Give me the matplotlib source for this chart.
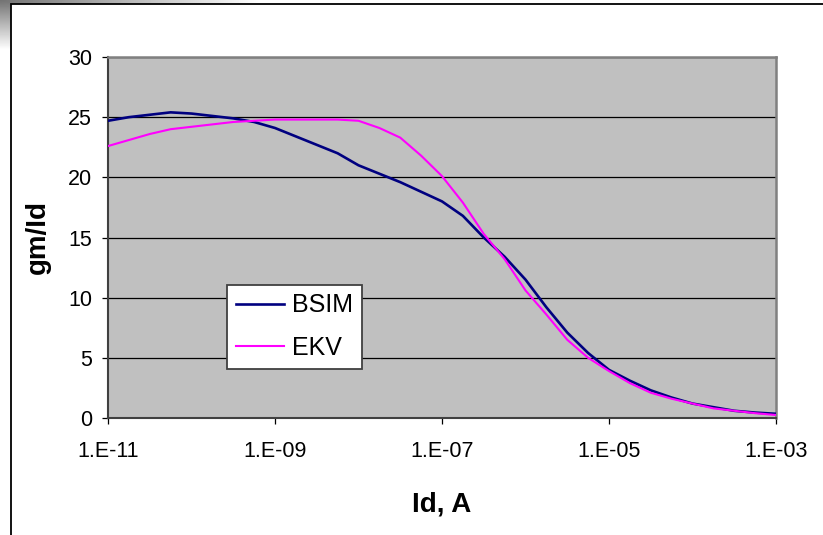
import numpy as np
import matplotlib
matplotlib.use("Agg")
import matplotlib.pyplot as plt
from matplotlib.patches import Rectangle
from matplotlib.ticker import FixedLocator, FixedFormatter, NullLocator

plt.rcParams['font.family'] = ['Liberation Sans', 'DejaVu Sans']

# Drain current exponents (log10 of Id, A)
id_exp = [-11, -10.75, -10.5, -10.25, -10, -9.75, -9.5, -9.25, -9, -8.75, -8.5,
          -8.25, -8, -7.75, -7.5, -7.25, -7, -6.75, -6.5, -6.25, -6, -5.75,
          -5.5, -5.25, -5, -4.75, -4.5, -4.25, -4, -3.75, -3.5, -3.25, -3]
bsim = [24.7, 25.0, 25.2, 25.4, 25.3, 25.1, 24.9, 24.6, 24.1, 23.4, 22.7,
        22.0, 21.0, 20.3, 19.6, 18.8, 18.0, 16.8, 15.0, 13.4, 11.5, 9.2,
        7.1, 5.4, 4.0, 3.1, 2.3, 1.7, 1.2, 0.9, 0.6, 0.45, 0.35]
ekv = [22.6, 23.1, 23.6, 24.0, 24.2, 24.4, 24.6, 24.7, 24.8, 24.8, 24.8,
       24.8, 24.7, 24.1, 23.3, 21.8, 20.1, 17.9, 15.3, 13.2, 10.6, 8.6,
       6.5, 5.0, 3.9, 2.9, 2.1, 1.6, 1.2, 0.8, 0.6, 0.4, 0.25]
xtick_vals = [1e-11, 1e-9, 1e-7, 1e-5, 1e-3]
xtick_labels = ["1.E-11", "1.E-09", "1.E-07", "1.E-05", "1.E-03"]
ytick_vals = [0, 5, 10, 15, 20, 25, 30]

Id = [10.0 ** e for e in id_exp]

W, H = 823, 535
fig = plt.figure(figsize=(W / 100, H / 100), dpi=100)
fig.patch.set_facecolor('white')

# gray decorative corner (outside chart border)
bg = fig.add_axes([0, 0, 1, 1], zorder=-10)
bg.set_xlim(0, W); bg.set_ylim(H, 0); bg.axis('off')
gx = np.linspace(0, 1, 260)
gy = np.linspace(0, 1, 50)
GX, GY = np.meshgrid(gx, gy)
shade = np.clip(1 - np.sqrt(GX ** 2 + GY ** 2), 0, 1)
img = 1 - 0.55 * shade
bg.imshow(img, cmap='gray', vmin=0, vmax=1, extent=(0, 260, 50, 0), aspect='auto', zorder=0)
bg.add_patch(Rectangle((11, 4), W + 20, H + 20, facecolor='white', edgecolor='black',
                       linewidth=1.3, zorder=1))

ax = fig.add_axes([108 / W, 1 - 418 / H, 668 / W, 361 / H])
ax.set_facecolor('#C0C0C0')
ax.set_xscale('log')
ax.set_xlim(1e-11, 1e-3)
ax.set_ylim(0, 30)

ax.plot(Id, bsim, color='#000080', linewidth=1.9, label='BSIM', zorder=3)
ax.plot(Id, ekv, color='#FF00FF', linewidth=1.5, label='EKV', zorder=4)

ax.xaxis.set_major_locator(FixedLocator(xtick_vals))
ax.xaxis.set_major_formatter(FixedFormatter(xtick_labels))
ax.xaxis.set_minor_locator(NullLocator())
ax.set_yticks(ytick_vals)
ax.yaxis.grid(True, color='black', linewidth=0.9)
ax.set_axisbelow(True)

ax.tick_params(axis='both', direction='out', length=4.5, width=0.9, color='black', labelsize=15.5)
ax.tick_params(axis='x', pad=12)
ax.tick_params(axis='y', pad=7)

for s in ['top', 'right']:
    ax.spines[s].set_color('#808080')
    ax.spines[s].set_linewidth(1.8)
for s in ['left', 'bottom']:
    ax.spines[s].set_color('#404040')
    ax.spines[s].set_linewidth(1.5)

ax.set_xlabel('Id, A', fontsize=20, fontweight='bold', labelpad=21)
ax.set_ylabel('gm/Id', fontsize=20, fontweight='bold', labelpad=12)

leg = ax.legend(loc='lower left', bbox_to_anchor=(0.178, 0.136), fontsize=18,
                frameon=True, fancybox=False, shadow=False, framealpha=1,
                borderaxespad=0, borderpad=0.35, handlelength=1.95, handletextpad=0.3,
                labelspacing=0.75)
leg.get_frame().set_edgecolor('#404040')
leg.get_frame().set_linewidth(1.3)
leg.get_frame().set_facecolor('white')

fig.savefig('out.png', dpi=100, facecolor='white')
